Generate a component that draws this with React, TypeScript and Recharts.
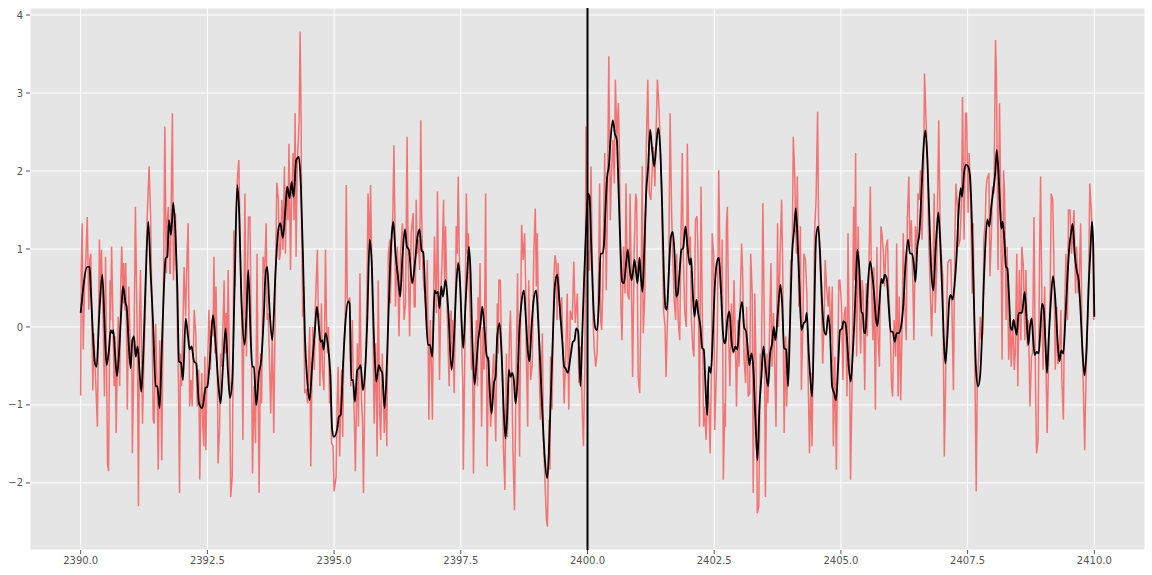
import { LineChart, Line, XAxis, YAxis, CartesianGrid, ReferenceLine } from 'recharts';

// tick positions
const xTicks = [2390, 2392.5, 2395, 2397.5, 2400, 2402.5, 2405, 2407.5, 2410];
const yTicks = [-2, -1, 0, 1, 2, 3, 4];
const eventTime = 2400;

// raw signal, [time, value]
const redPoints: [number, number][] = [
  [2390.00,-0.88],[2390.01,0.73],[2390.03,1.33],[2390.05,-0.29],[2390.08,0.60],[2390.10,0.82],[2390.13,1.41],[2390.16,0.22],[2390.18,0.86],[2390.20,0.94],
  [2390.22,0.09],[2390.24,-0.81],[2390.26,-0.08],[2390.30,-0.76],[2390.33,-1.28],[2390.35,-0.08],[2390.37,1.12],[2390.39,0.30],[2390.41,0.99],[2390.44,0.18],
  [2390.47,-0.89],[2390.49,0.90],[2390.53,-1.75],[2390.55,-1.85],[2390.58,0.60],[2390.59,0.09],[2390.61,1.03],[2390.64,0.00],[2390.66,-0.76],[2390.68,-0.12],
  [2390.70,-1.36],[2390.72,-0.55],[2390.74,0.13],[2390.77,-0.76],[2390.79,0.52],[2390.81,1.03],[2390.84,0.30],[2390.85,0.82],[2390.87,0.21],[2390.89,0.82],
  [2390.92,-1.06],[2390.95,0.52],[2390.98,-0.34],[2391.01,-0.55],[2391.02,-1.62],[2391.05,-0.38],[2391.08,1.54],[2391.12,-0.34],[2391.14,-2.30],[2391.16,0.09],
  [2391.18,0.73],[2391.22,-1.24],[2391.25,-0.34],[2391.28,0.30],[2391.31,1.37],[2391.35,2.06],[2391.38,1.41],[2391.41,0.09],[2391.43,-1.19],[2391.45,-1.24],
  [2391.48,0.04],[2391.51,-0.85],[2391.53,-1.83],[2391.56,-0.17],[2391.58,-0.76],[2391.60,-1.71],[2391.62,-0.34],[2391.64,0.94],[2391.66,2.57],[2391.69,0.69],
  [2391.71,1.37],[2391.73,1.54],[2391.76,0.69],[2391.77,0.69],[2391.79,1.80],[2391.81,2.74],[2391.83,0.60],[2391.85,0.94],[2391.87,1.46],[2391.91,-0.12],
  [2391.93,-0.76],[2391.95,-2.13],[2391.97,-0.34],[2391.99,-0.76],[2392.02,0.09],[2392.04,0.77],[2392.07,0.13],[2392.10,0.94],[2392.12,1.33],[2392.15,-1.02],
  [2392.18,-0.68],[2392.20,-1.02],[2392.24,0.22],[2392.27,-0.08],[2392.30,-1.02],[2392.33,-0.55],[2392.35,-1.96],[2392.37,-0.98],[2392.39,-0.59],[2392.41,-1.28],
  [2392.43,-1.53],[2392.45,-0.38],
  [2392.47,-1.58],[2392.49,-0.76],[2392.51,-0.34],[2392.53,0.22],[2392.56,-0.55],[2392.58,0.09],[2392.61,-0.12],[2392.63,0.90],[2392.65,-0.34],[2392.67,0.52],
  [2392.70,-0.76],[2392.71,-1.75],[2392.74,-1.32],[2392.76,-0.34],[2392.78,-0.51],[2392.81,0.09],[2392.83,0.60],[2392.85,-0.34],[2392.87,0.18],[2392.89,-0.34],
  [2392.91,0.73],[2392.94,-0.76],[2392.96,-2.18],[2392.99,-1.92],[2393.01,-0.34],[2393.02,1.24],[2393.04,0.52],[2393.06,1.37],[2393.09,1.88],[2393.12,2.14],
  [2393.16,0.56],[2393.18,0.09],[2393.20,-1.45],[2393.22,0.09],[2393.24,1.71],[2393.27,-0.38],[2393.29,0.52],[2393.31,1.41],[2393.34,1.41],[2393.37,-0.34],
  [2393.39,-1.88],[2393.42,-0.76],[2393.45,-1.49],[2393.48,0.94],[2393.50,-0.76],[2393.52,-2.13],[2393.55,-0.34],[2393.57,-0.98],[2393.60,0.90],[2393.63,0.69],
  [2393.66,1.33],[2393.68,0.09],[2393.70,0.18],[2393.73,-0.55],[2393.75,-1.11],[2393.78,-0.12],[2393.81,-1.36],[2393.85,0.94],[2393.87,1.85],[2393.90,1.63],
  [2393.92,0.86],[2393.94,0.94],[2393.97,1.63],[2393.99,0.99],[2394.02,2.06],[2394.04,0.94],[2394.06,1.80],[2394.09,1.37],[2394.11,2.35],[2394.14,0.73],
  [2394.16,1.63],[2394.19,2.23],[2394.21,1.37],[2394.23,2.74],[2394.25,0.90],[2394.27,2.01],[2394.29,2.35],[2394.31,2.65],[2394.33,3.79],[2394.35,2.65],
  [2394.36,1.16],[2394.37,0.86],[2394.38,0.13],[2394.40,0.52],[2394.42,-0.85],[2394.45,-0.81],[2394.48,-0.98],[2394.50,-0.34],[2394.52,0.00],[2394.54,-1.79],
  [2394.56,-0.76],[2394.58,0.00],[2394.61,-0.55],[2394.63,0.26],[2394.67,0.99],[2394.69,0.09],[2394.70,0.18],[2394.72,-0.76],[2394.73,-0.47],[2394.75,0.30],
  [2394.77,-0.55],[2394.80,-0.81],[2394.83,0.99],[2394.85,0.09],[2394.87,-0.34],[2394.89,0.00],[2394.91,-0.98],[2394.93,-0.55],[2394.95,-1.49],[2394.98,-1.53],
  [2395.00,-2.11],
  [2395.04,-1.92],[2395.06,-0.98],[2395.08,-0.51],[2395.11,-1.66],[2395.13,-0.98],[2395.15,-0.55],[2395.17,-1.41],[2395.19,-0.34],[2395.22,0.09],[2395.24,1.82],
  [2395.26,0.38],[2395.28,0.30],[2395.31,0.38],[2395.33,-0.76],[2395.36,0.09],[2395.38,-0.76],[2395.40,-1.19],[2395.42,-1.85],[2395.46,-0.21],[2395.48,-1.28],
  [2395.51,0.69],[2395.53,-0.34],[2395.54,-0.94],[2395.56,-1.19],[2395.58,-2.13],[2395.61,-0.64],[2395.63,-0.34],[2395.65,0.52],[2395.67,1.71],[2395.70,0.94],
  [2395.72,1.82],[2395.74,0.94],[2395.75,0.52],[2395.77,-0.12],[2395.79,-1.24],[2395.82,-0.21],[2395.85,-1.66],[2395.87,0.60],[2395.90,-1.11],[2395.92,-1.45],
  [2395.95,-0.34],[2395.97,-0.76],[2395.99,-1.36],[2396.02,-0.76],[2396.04,-1.53],[2396.07,0.94],[2396.10,1.12],[2396.11,0.30],[2396.13,0.94],[2396.16,1.46],
  [2396.18,2.33],[2396.20,1.37],[2396.21,0.26],[2396.25,1.03],[2396.28,-0.12],[2396.31,0.94],[2396.35,1.33],[2396.38,0.09],[2396.41,0.30],[2396.44,2.44],
  [2396.46,0.94],[2396.49,-0.12],[2396.52,1.20],[2396.56,1.46],[2396.58,0.26],[2396.60,0.26],[2396.62,1.63],[2396.64,0.94],[2396.66,1.12],[2396.69,0.73],
  [2396.71,2.65],[2396.73,1.37],[2396.75,0.77],[2396.77,0.52],[2396.79,0.43],[2396.82,0.09],[2396.84,0.86],[2396.87,-1.19],[2396.89,-0.12],[2396.90,0.09],
  [2396.92,-0.55],[2396.94,-1.19],[2396.96,0.09],[2396.98,1.16],[2397.02,0.18],[2397.04,1.74],[2397.06,0.52],[2397.08,-0.68],[2397.11,0.52],[2397.13,0.82],
  [2397.16,1.63],[2397.18,0.52],[2397.20,1.29],[2397.23,0.26],[2397.27,-0.76],[2397.29,0.09],[2397.31,0.21],[2397.33,-0.34],[2397.34,0.09],[2397.37,-0.85],
  [2397.39,0.09],[2397.41,1.29],[2397.43,0.94],[2397.45,1.93],[2397.47,0.94],[2397.49,0.60],[2397.52,-0.29],[2397.54,-0.76],[2397.55,-1.83],[2397.58,-0.34],
  [2397.59,0.52],[2397.61,1.71],[2397.63,0.94],[2397.65,1.20],[2397.67,0.43],[2397.69,0.09],[2397.71,-0.55],[2397.73,-0.34],[2397.75,-1.88],[2397.78,-0.34],
  [2397.81,0.09],[2397.83,-0.76],[2397.84,0.38],[2397.86,-0.12],[2397.88,0.82],[2397.91,-1.28],[2397.94,0.00],[2397.96,-0.55],[2397.99,1.71],[2398.02,-1.79],
  [2398.04,-0.76],[2398.05,-0.38],[2398.09,-1.28],[2398.11,-0.98],[2398.12,-0.68],[2398.15,-0.34],[2398.19,-1.47],[2398.22,0.30],[2398.24,-0.34],[2398.25,0.60],
  [2398.28,0.60],[2398.30,-0.12],[2398.32,-0.51],[2398.34,-1.53],[2398.37,-2.09],[2398.40,-0.34],[2398.42,-1.41],[2398.44,-0.89],[2398.46,-0.12],[2398.48,0.21],
  [2398.51,-0.76],[2398.53,-1.62],[2398.56,-2.35],[2398.59,-0.68],[2398.62,0.69],[2398.64,-0.55],[2398.66,-1.66],[2398.68,0.09],[2398.70,1.31],[2398.73,0.86],
  [2398.76,1.20],[2398.78,0.52],[2398.79,-0.25],[2398.82,-1.28],[2398.84,0.60],[2398.88,-0.68],[2398.91,-0.47],[2398.94,0.94],[2398.97,1.52],[2398.99,0.52],
  [2399.01,1.20],[2399.04,-0.34],[2399.07,-1.19],[2399.11,-0.08],[2399.13,-1.41],[2399.16,-1.96],[2399.19,-2.47],[2399.21,-2.56],[2399.24,-1.19],[2399.26,-1.83],
  [2399.27,-0.38],[2399.30,-1.06],[2399.34,0.69],[2399.36,0.92],[2399.38,0.82],[2399.40,0.09],[2399.42,0.82],[2399.46,0.09],[2399.49,0.38],[2399.51,-0.17],
  [2399.54,-0.98],[2399.57,-0.38],[2399.60,0.43],[2399.63,-1.06],[2399.66,0.21],[2399.70,0.09],[2399.73,0.84],[2399.76,0.05],[2399.80,0.43],[2399.83,-0.72],
  [2399.87,-0.25],[2399.90,-1.15],[2399.92,-1.53],[2399.95,-0.42],[2399.97,2.57],[2399.99,1.80],[2400.01,0.99],[2400.03,0.73],[2400.04,0.73],[2400.07,2.06],
  [2400.11,0.09],[2400.13,-0.25],
  [2400.16,-0.51],[2400.19,-0.34],[2400.21,0.30],[2400.24,1.84],[2400.26,0.09],[2400.28,-0.04],[2400.30,0.43],[2400.34,2.23],[2400.37,0.47],[2400.39,1.37],
  [2400.42,3.47],[2400.45,1.37],[2400.47,1.88],[2400.50,2.40],[2400.53,1.84],[2400.55,3.17],[2400.58,2.40],[2400.61,2.87],[2400.63,2.23],[2400.66,0.26],
  [2400.68,-0.17],[2400.71,1.03],[2400.74,0.43],[2400.76,1.84],[2400.79,0.43],[2400.82,0.35],[2400.84,1.71],[2400.87,0.39],[2400.89,-0.64],[2400.92,0.94],
  [2400.95,1.71],[2400.97,1.63],[2401.00,-0.64],[2401.03,-0.85],[2401.05,0.09],[2401.08,2.06],[2401.10,-0.08],[2401.13,0.39],[2401.16,2.31],[2401.19,3.17],
  [2401.22,1.71],[2401.25,1.63],[2401.28,2.06],[2401.30,2.31],[2401.33,1.80],[2401.35,2.44],[2401.38,3.17],[2401.41,2.82],[2401.43,2.44],[2401.46,1.80],
  [2401.50,0.22],[2401.53,0.00],[2401.55,-0.64],[2401.58,0.13],[2401.60,0.60],[2401.63,2.74],[2401.66,1.46],[2401.68,0.94],[2401.71,0.35],[2401.74,0.09],
  [2401.76,0.94],[2401.79,0.09],[2401.82,-0.17],[2401.84,0.99],[2401.87,2.23],[2401.89,0.94],[2401.92,0.18],[2401.95,0.00],[2401.97,2.35],[2402.00,0.94],
  [2402.03,1.16],[2402.05,0.09],[2402.08,-0.29],[2402.10,-0.38],[2402.13,1.37],[2402.16,1.42],[2402.18,0.94],[2402.21,-1.28],[2402.24,1.80],[2402.26,0.52],
  [2402.29,-1.28],[2402.31,-1.02],[2402.34,-1.45],[2402.37,-0.68],[2402.39,-0.89],[2402.42,-1.62],[2402.45,-0.34],[2402.46,1.20],[2402.49,0.94],[2402.51,-1.32],
  [2402.54,-0.68],[2402.56,-0.17],[2402.59,2.01],[2402.62,0.52],[2402.64,0.43],[2402.66,1.12],[2402.68,-1.96],[2402.71,-0.98],
  [2402.72,-1.28],[2402.74,1.29],[2402.76,1.54],[2402.79,-0.25],[2402.81,-0.76],[2402.84,0.30],[2402.87,-0.34],[2402.89,0.60],[2402.92,-0.25],[2402.94,-1.02],
  [2402.97,0.09],[2402.99,-0.51],[2403.02,0.52],[2403.04,1.07],[2403.06,0.73],[2403.09,-0.42],[2403.12,-0.72],[2403.14,0.26],[2403.17,-0.89],[2403.20,-0.85],
  [2403.22,0.94],[2403.25,0.43],[2403.27,-2.13],[2403.30,0.43],[2403.33,-0.68],[2403.35,-2.39],[2403.38,-2.30],[2403.41,-0.34],[2403.43,-0.68],[2403.46,1.59],
  [2403.49,0.00],[2403.51,-2.18],[2403.54,-0.34],[2403.56,-0.98],[2403.59,-0.12],[2403.62,0.82],[2403.64,-0.51],[2403.67,0.18],[2403.70,-0.68],[2403.72,-1.28],
  [2403.75,1.33],[2403.77,0.00],[2403.80,0.94],[2403.83,1.63],[2403.85,0.86],[2403.88,-1.36],[2403.91,-0.12],[2403.93,-1.02],[2403.96,-0.25],[2403.99,-0.04],
  [2404.01,0.86],[2404.04,0.86],[2404.06,2.44],[2404.09,1.93],[2404.12,0.94],[2404.14,1.93],[2404.17,0.26],[2404.20,1.29],[2404.22,-0.81],[2404.25,0.04],
  [2404.27,0.94],[2404.30,0.86],[2404.33,0.39],[2404.35,-0.51],[2404.38,-1.62],[2404.41,-0.59],[2404.43,-1.53],[2404.46,0.00],[2404.48,1.20],[2404.51,1.63],
  [2404.54,2.76],[2404.56,1.37],[2404.59,0.77],[2404.62,0.26],[2404.64,-0.47],[2404.67,0.09],[2404.69,0.86],[2404.72,0.47],[2404.75,0.26],[2404.77,0.52],
  [2404.80,-0.17],[2404.83,0.52],[2404.85,-1.53],[2404.88,-0.38],[2404.91,-1.83],[2404.93,-0.76],[2404.96,0.60],[2404.98,0.60],[2405.01,0.30],[2405.04,-0.68],
  [2405.06,0.13],[2405.09,0.26],[2405.12,-0.89],[2405.14,1.20],[2405.17,-0.34],[2405.19,-1.96],[2405.22,-0.76],[2405.25,1.54],[2405.27,0.60],
  [2405.29,2.23],[2405.31,-0.38],[2405.34,1.29],[2405.37,0.09],[2405.39,-0.34],[2405.42,0.60],[2405.44,0.43],[2405.47,-0.81],[2405.50,0.56],[2405.52,-0.12],
  [2405.55,0.69],[2405.58,1.80],[2405.60,0.69],[2405.63,-0.17],[2405.65,0.77],[2405.68,-1.06],[2405.71,1.03],[2405.73,-0.08],[2405.76,-0.51],[2405.79,1.29],
  [2405.81,1.20],[2405.84,0.94],[2405.86,0.52],[2405.89,1.03],[2405.92,1.12],[2405.94,0.52],[2405.97,0.09],[2406.00,-0.76],[2406.02,-0.89],[2406.05,0.09],
  [2406.08,-0.38],[2406.10,1.07],[2406.13,-0.89],[2406.15,0.39],[2406.18,-0.94],[2406.21,0.09],[2406.23,1.20],[2406.26,0.30],[2406.29,-0.17],[2406.31,1.37],
  [2406.34,1.93],[2406.36,1.03],[2406.39,1.37],[2406.42,0.52],[2406.44,-0.17],[2406.47,1.29],[2406.50,0.94],[2406.52,1.71],[2406.55,1.63],[2406.57,2.01],
  [2406.60,1.12],[2406.63,1.93],[2406.65,3.25],[2406.68,2.65],[2406.71,2.14],[2406.73,1.16],[2406.76,0.52],[2406.79,-0.12],[2406.81,0.43],[2406.84,1.71],
  [2406.86,0.18],[2406.89,0.73],[2406.93,2.65],[2406.96,1.20],[2406.98,0.94],[2407.01,0.65],[2407.04,-1.66],[2407.06,-0.94],[2407.09,0.30],[2407.11,0.82],
  [2407.14,0.86],[2407.17,0.86],[2407.19,0.26],[2407.22,-0.81],[2407.25,1.20],[2407.27,1.84],[2407.30,1.54],[2407.32,1.03],[2407.35,1.12],[2407.38,1.63],
  [2407.40,2.95],[2407.43,1.12],[2407.46,2.74],[2407.48,2.74],[2407.51,1.46],[2407.53,2.23],[2407.56,1.63],[2407.59,0.43],[2407.61,1.33],[2407.64,-0.34],
  [2407.67,-2.11],[2407.69,-0.76],[2407.72,-0.34],[2407.75,0.13],[2407.77,-0.17],[2407.80,-0.08],[2407.82,1.12],[2407.85,1.37],
  [2407.86,1.71],[2407.88,1.88],[2407.92,1.97],[2407.94,0.65],[2407.97,1.20],[2407.99,1.80],[2408.02,1.71],[2408.05,3.68],[2408.07,3.17],[2408.10,0.73],
  [2408.13,2.87],[2408.15,1.80],[2408.18,-0.42],[2408.21,2.01],[2408.23,1.71],[2408.26,0.09],[2408.28,1.03],[2408.31,-0.42],[2408.34,0.09],[2408.36,-0.51],
  [2408.39,0.09],[2408.42,-0.55],[2408.44,-0.34],[2408.47,0.94],[2408.49,-0.76],[2408.52,0.73],[2408.55,-0.17],[2408.57,1.03],[2408.60,0.77],[2408.63,-0.17],
  [2408.65,0.73],[2408.68,-0.25],[2408.70,0.09],[2408.73,-1.02],[2408.76,-0.38],[2408.78,-0.34],[2408.81,1.41],[2408.84,-0.76],[2408.86,-1.62],[2408.89,-1.45],
  [2408.92,0.94],[2408.94,1.93],[2408.97,0.00],[2408.99,-0.55],[2409.02,0.52],[2409.05,-0.64],[2409.07,-1.36],[2409.10,-0.34],[2409.13,0.52],[2409.15,1.71],
  [2409.18,1.63],[2409.20,0.94],[2409.23,-0.55],[2409.26,0.26],[2409.28,-0.47],[2409.31,-0.42],[2409.34,0.22],[2409.36,-0.68],[2409.39,-1.19],[2409.41,0.09],
  [2409.44,0.94],[2409.47,0.09],[2409.49,1.50],[2409.52,1.50],[2409.55,0.94],[2409.57,1.16],[2409.60,1.50],[2409.63,0.43],[2409.65,1.03],[2409.68,0.43],
  [2409.70,0.52],[2409.73,1.33],[2409.76,-0.17],[2409.78,-0.68],[2409.81,-1.58],[2409.84,-0.51],[2409.86,-0.17],[2409.89,0.69],[2409.91,1.84],[2409.94,1.50],
  [2409.97,1.03],[2409.99,0.09],[2410.00,0.43],
];

// smoothed signal, [time, value]
const blackPoints: [number, number][] = [
  [2390.000,0.18],[2390.131,0.77],[2390.177,0.77],[2390.197,0.52],[2390.243,-0.12],[2390.282,-0.47],[2390.315,-0.51],[2390.361,0.09],[2390.427,0.67],[2390.480,-0.12],
  [2390.512,-0.49],[2390.558,-0.29],[2390.591,-0.04],[2390.624,-0.08],[2390.644,-0.04],[2390.677,-0.34],[2390.716,-0.63],[2390.756,-0.34],[2390.802,0.22],[2390.835,0.52],
  [2390.887,0.30],[2390.907,0.26],[2390.940,-0.12],[2390.986,-0.53],[2391.019,-0.17],[2391.052,-0.12],[2391.085,-0.38],[2391.124,-0.25],[2391.163,-0.59],[2391.196,-0.83],
  [2391.236,-0.34],[2391.282,0.60],[2391.334,1.35],[2391.380,0.69],[2391.426,0.09],[2391.479,-0.76],[2391.512,-0.76],[2391.558,-1.04],[2391.597,-0.34],[2391.643,0.51],
  [2391.676,0.88],[2391.709,0.90],[2391.742,1.37],[2391.781,1.18],[2391.827,1.59],[2391.873,1.15],[2391.906,0.52],[2391.939,-0.44],[2391.979,-0.46],[2392.018,-0.68],
  [2392.071,0.11],[2392.117,-0.12],[2392.150,-0.29],[2392.189,-0.25],[2392.235,-0.44],[2392.281,-0.47],[2392.334,-0.98],[2392.400,-1.04],[2392.465,-0.78],
  [2392.498,-0.77],[2392.544,-0.47],[2392.610,0.15],[2392.662,-0.21],[2392.715,-0.72],[2392.761,-0.98],[2392.807,-0.51],[2392.859,-0.02],[2392.905,-0.56],[2392.945,-0.91],
  [2392.991,-0.68],[2393.037,0.52],[2393.090,1.82],[2393.122,1.54],[2393.175,0.30],[2393.234,-0.23],[2393.267,0.09],[2393.307,0.73],[2393.353,-0.12],[2393.385,-0.51],
  [2393.418,-0.51],[2393.464,-1.00],[2393.517,-0.60],[2393.563,-0.42],[2393.616,0.18],[2393.648,0.69],[2393.681,0.77],[2393.727,0.22],[2393.780,-0.17],[2393.846,0.73],
  [2393.898,1.24],[2393.938,1.33],[2393.990,1.14],[2394.043,1.55],[2394.076,1.80],[2394.122,1.65],[2394.161,1.86],[2394.201,1.67],[2394.253,2.14],[2394.306,2.18],
  [2394.345,1.80],[2394.385,0.94],[2394.424,-0.12],[2394.470,-0.68],[2394.516,-0.94],[2394.569,-0.47],[2394.621,-0.04],[2394.661,0.26],[2394.700,0.00],[2394.733,-0.19],
  [2394.766,-0.17],[2394.792,-0.29],[2394.832,-0.08],[2394.878,-0.23],[2394.924,-0.59],[2394.963,-1.32],[2394.996,-1.41],
  [2395.063,-1.30],[2395.096,-1.15],[2395.129,-1.13],[2395.175,-0.51],[2395.227,0.09],[2395.280,0.33],[2395.306,0.30],[2395.339,-0.68],[2395.372,-0.68],[2395.411,-0.96],
  [2395.457,-0.55],[2395.490,-0.53],[2395.523,-0.49],[2395.569,-0.81],[2395.609,-0.59],[2395.655,0.09],[2395.701,1.12],[2395.740,0.86],[2395.786,-0.12],[2395.832,-0.70],
  [2395.885,-0.49],[2395.918,-0.55],[2395.950,-0.59],[2395.996,-1.04],[2396.049,-0.34],[2396.095,0.60],[2396.135,1.16],[2396.167,1.35],[2396.213,0.94],[2396.259,0.65],
  [2396.305,0.39],[2396.345,0.86],[2396.398,1.25],[2396.437,1.03],[2396.476,0.99],[2396.542,0.56],[2396.595,0.82],[2396.647,1.16],[2396.687,1.25],[2396.726,0.98],
  [2396.759,0.96],[2396.805,0.30],[2396.851,-0.23],[2396.891,-0.23],[2396.937,-0.38],[2396.983,0.47],[2397.016,0.43],[2397.048,0.45],[2397.081,0.24],[2397.114,0.52],
  [2397.147,0.39],[2397.200,0.60],[2397.252,0.22],[2397.318,-0.55],[2397.364,-0.17],[2397.410,0.52],[2397.449,0.82],[2397.482,0.60],[2397.515,0.09],[2397.548,-0.27],
  [2397.594,0.30],[2397.627,0.69],[2397.660,1.03],[2397.693,0.69],[2397.725,-0.12],[2397.772,-0.74],[2397.804,-0.51],[2397.844,-0.17],[2397.890,0.05],[2397.923,0.26],
  [2397.969,-0.04],[2398.008,-0.36],[2398.041,-0.42],[2398.067,-0.76],[2398.107,-1.11],[2398.153,-0.72],[2398.186,-0.64],[2398.219,-0.12],[2398.265,0.05],[2398.304,-0.34],
  [2398.350,-1.11],[2398.383,-1.43],[2398.416,-1.11],[2398.449,-0.55],[2398.482,-0.64],[2398.514,-0.59],[2398.547,-0.68],[2398.580,-0.98],[2398.613,-0.76],[2398.659,0.00],
  [2398.699,0.32],[2398.745,0.47],[2398.778,0.17],[2398.824,-0.32],[2398.856,-0.44],[2398.896,0.00],[2398.942,0.37],[2398.988,0.47],[2399.027,0.09],[2399.073,-0.55],
  [2399.119,-1.23],[2399.159,-1.70],[2399.205,-1.94],[2399.238,-1.62],[2399.271,-0.98],[2399.317,-0.12],[2399.356,0.52],[2399.402,0.67],[2399.448,0.30],[2399.501,-0.17],
  [2399.540,-0.51],[2399.566,-0.53],[2399.612,-0.59],[2399.665,-0.38],[2399.711,-0.19],[2399.744,-0.17],[2399.777,-0.02],[2399.816,-0.06],[2399.862,-0.76],[2399.895,-0.12],
  [2399.935,0.65],[2399.974,1.29],[2400.013,1.71],[2400.040,1.67],[2400.079,0.94],[2400.125,0.17],
  [2400.158,-0.02],[2400.191,-0.04],[2400.224,0.30],[2400.257,0.94],[2400.290,0.94],[2400.322,1.03],[2400.355,1.50],[2400.388,1.93],[2400.421,2.06],[2400.454,2.40],
  [2400.500,2.65],[2400.539,2.48],[2400.579,2.40],[2400.605,1.93],[2400.631,1.38],[2400.658,0.86],[2400.684,0.58],[2400.717,0.56],[2400.763,0.82],[2400.796,0.99],
  [2400.829,0.77],[2400.868,0.60],[2400.894,0.69],[2400.927,0.86],[2400.960,0.69],[2400.986,0.56],[2401.026,0.89],[2401.052,0.65],[2401.085,0.45],[2401.118,0.94],
  [2401.157,1.71],[2401.197,2.06],[2401.236,2.53],[2401.276,2.27],[2401.315,2.06],[2401.355,2.31],[2401.394,2.55],[2401.433,2.31],[2401.473,1.54],[2401.506,0.69],
  [2401.539,0.24],[2401.565,0.22],[2401.604,0.69],[2401.644,1.15],[2401.683,1.22],[2401.723,0.86],[2401.749,0.39],[2401.782,0.43],[2401.815,0.69],[2401.854,0.99],
  [2401.887,1.01],[2401.933,1.29],[2401.973,1.03],[2402.019,0.80],[2402.045,0.88],[2402.078,0.43],[2402.111,0.13],[2402.150,0.35],[2402.183,0.18],[2402.229,0.00],
  [2402.262,-0.27],[2402.295,-0.29],[2402.328,-0.76],[2402.361,-1.13],[2402.393,-0.51],[2402.433,-0.59],[2402.472,-0.12],[2402.512,0.52],[2402.551,0.82],[2402.591,0.89],
  [2402.630,0.52],[2402.669,-0.04],[2402.702,-0.21],
  [2402.722,-0.19],[2402.761,0.09],[2402.801,0.20],[2402.840,-0.17],[2402.880,-0.32],[2402.919,-0.25],[2402.959,-0.29],[2402.998,0.09],[2403.051,0.32],[2403.090,0.00],
  [2403.130,-0.06],[2403.169,-0.34],[2403.195,-0.49],[2403.235,-0.34],[2403.274,-0.55],[2403.314,-1.19],[2403.353,-1.71],[2403.393,-1.02],[2403.432,-0.63],[2403.472,-0.25],
  [2403.511,-0.51],[2403.564,-0.76],[2403.603,-0.34],[2403.642,-0.21],[2403.675,0.00],[2403.708,-0.17],[2403.754,0.17],[2403.807,0.54],[2403.840,0.30],[2403.879,-0.27],
  [2403.919,-0.29],[2403.958,-0.76],[2403.998,0.09],[2404.037,0.94],[2404.076,1.24],[2404.109,1.52],[2404.142,1.16],[2404.182,0.52],[2404.221,-0.04],[2404.267,0.05],
  [2404.300,0.07],[2404.326,0.18],[2404.366,-0.34],[2404.399,-0.68],[2404.432,-0.89],[2404.471,0.09],[2404.510,1.15],[2404.550,1.29],[2404.589,0.94],[2404.629,0.30],
  [2404.668,-0.04],[2404.708,-0.10],[2404.747,0.15],[2404.786,-0.08],[2404.826,-0.76],[2404.865,-0.85],[2404.905,-0.94],[2404.944,-0.51],[2404.984,-0.04],[2405.023,-0.02],
  [2405.049,0.07],[2405.089,0.05],[2405.122,-0.17],[2405.155,-0.51],[2405.194,-0.70],[2405.234,-0.34],[2405.265,0.05],
  [2405.300,0.65],[2405.325,0.99],[2405.365,0.73],[2405.404,0.18],[2405.431,0.18],[2405.457,-0.08],[2405.483,-0.08],[2405.523,0.43],[2405.575,0.84],[2405.615,0.69],
  [2405.654,0.43],[2405.694,0.09],[2405.720,0.01],[2405.759,0.30],[2405.799,0.62],[2405.825,0.56],[2405.865,0.67],[2405.904,0.62],[2405.943,0.26],[2405.983,-0.06],
  [2406.022,-0.06],[2406.062,-0.19],[2406.101,-0.08],[2406.141,-0.08],[2406.193,0.03],[2406.233,0.30],[2406.272,0.77],[2406.325,1.12],[2406.364,0.94],[2406.404,0.94],
  [2406.443,0.77],[2406.469,0.58],[2406.509,1.03],[2406.548,1.20],[2406.588,1.71],[2406.627,2.27],[2406.667,2.52],[2406.706,2.14],[2406.746,1.38],[2406.785,0.69],
  [2406.824,0.47],[2406.864,0.94],[2406.897,1.29],[2406.923,1.47],[2406.963,1.03],[2406.995,0.52],[2407.028,-0.12],[2407.061,-0.47],[2407.101,-0.12],[2407.140,0.35],
  [2407.166,0.41],[2407.206,0.35],[2407.245,0.56],[2407.285,0.94],[2407.324,1.50],[2407.364,1.78],[2407.390,1.67],[2407.429,1.97],[2407.469,2.08],[2407.508,2.06],
  [2407.548,1.93],[2407.587,1.29],[2407.627,0.26],[2407.666,-0.55],[2407.705,-0.76],[2407.745,-0.64],[2407.784,-0.12],[2407.824,0.65],
  [2407.850,1.05],[2407.889,1.38],[2407.929,1.29],[2407.968,1.55],[2408.008,1.76],[2408.047,1.99],[2408.074,2.27],[2408.113,1.93],[2408.146,1.46],[2408.166,1.26],
  [2408.192,1.35],[2408.225,1.12],[2408.258,0.77],[2408.284,0.75],[2408.317,0.39],[2408.350,-0.02],[2408.376,-0.04],[2408.409,0.09],[2408.435,0.00],[2408.468,-0.10],
  [2408.507,0.18],[2408.540,0.18],[2408.573,0.18],[2408.626,0.45],[2408.665,0.09],[2408.698,-0.23],[2408.731,0.00],[2408.764,0.11],[2408.790,-0.12],[2408.823,-0.36],
  [2408.862,-0.32],[2408.902,-0.34],[2408.935,-0.04],[2408.968,0.30],[2409.001,0.24],[2409.033,-0.17],[2409.066,-0.59],[2409.099,-0.17],[2409.139,0.30],[2409.185,0.65],
  [2409.231,0.35],[2409.270,-0.12],[2409.310,-0.44],[2409.349,-0.30],[2409.388,-0.34],[2409.428,0.09],[2409.467,0.60],[2409.507,1.03],[2409.540,1.20],[2409.572,1.32],
  [2409.612,0.94],[2409.651,0.73],[2409.691,0.60],[2409.730,0.18],[2409.769,-0.34],[2409.809,-0.62],[2409.848,-0.25],[2409.888,0.52],[2409.927,1.03],[2409.954,1.35],
  [2409.980,1.03],[2410.000,0.13],
];

const toRows = (pts: [number, number][]) => pts.map(([t, v]) => ({ t, v }));

const tickStyle = { fill: '#555555', fontSize: 10, fontFamily: 'DejaVu Sans, sans-serif' };

const fmtY = (v: number) => (v < 0 ? `\u2212${Math.abs(v)}` : `${v}`);

export default function App() {
  const raw = toRows(redPoints);
  const smooth = toRows(blackPoints);

  return (
    <div style={{ position: 'absolute', left: 0, top: 0, width: 1152, height: 575, background: '#ffffff' }}>
      <LineChart width={1152} height={575} margin={{ top: 8, right: 7, bottom: 0, left: 0 }}>
        <CartesianGrid fill="#e5e5e5" fillOpacity={1} stroke="#ffffff" strokeWidth={1} />
        <XAxis
          dataKey="t"
          type="number"
          domain={[2389, 2411]}
          ticks={xTicks}
          allowDataOverflow
          height={25}
          axisLine={false}
          tickLine={{ stroke: '#555555' }}
          tickSize={4}
          tickMargin={3}
          tick={tickStyle}
          tickFormatter={(v: number) => v.toFixed(1)}
        />
        <YAxis
          type="number"
          domain={[-2.86, 4.09]}
          ticks={yTicks}
          allowDataOverflow
          width={30}
          axisLine={false}
          tickLine={{ stroke: '#555555' }}
          tickSize={4}
          tickMargin={3}
          tick={tickStyle}
          tickFormatter={fmtY}
        />
        <Line
          data={raw}
          dataKey="v"
          type="linear"
          stroke="#f27373"
          strokeWidth={1.5}
          dot={false}
          activeDot={false}
          isAnimationActive={false}
        />
        <ReferenceLine x={eventTime} stroke="#000000" strokeWidth={2} />
        <Line
          data={smooth}
          dataKey="v"
          type="monotone"
          stroke="#000000"
          strokeWidth={1.8}
          dot={false}
          activeDot={false}
          isAnimationActive={false}
        />
      </LineChart>
    </div>
  );
}
